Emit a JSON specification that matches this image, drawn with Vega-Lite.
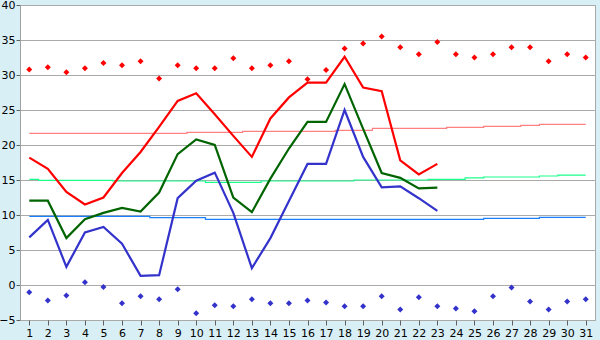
{
  "$schema": "https://vega.github.io/schema/vega-lite/v6.json",
  "width": 575,
  "height": 315,
  "autosize": {"type": "none"},
  "padding": {"left": 20, "top": 5, "right": 5, "bottom": 20},
  "background": "#d9eff6",
  "config": {
    "view": {"fill": "white", "stroke": "#a8a8a8", "strokeWidth": 1},
    "axis": {
      "labelFont": "DejaVu Sans",
      "labelFontSize": 11,
      "labelColor": "#000000",
      "domainColor": "#a0a0a0",
      "tickColor": "#606060",
      "title": null
    }
  },
  "datasets": {
    "normals": [
      {"day": 1, "series": "normal max", "value": 21.67}, {"day": 2, "series": "normal max", "value": 21.67}, {"day": 3, "series": "normal max", "value": 21.67}, {"day": 4, "series": "normal max", "value": 21.67}, {"day": 5, "series": "normal max", "value": 21.67}, {"day": 6, "series": "normal max", "value": 21.67}, {"day": 7, "series": "normal max", "value": 21.67}, {"day": 8, "series": "normal max", "value": 21.67}, {"day": 9, "series": "normal max", "value": 21.67}, {"day": 10, "series": "normal max", "value": 21.81}, {"day": 11, "series": "normal max", "value": 21.81}, {"day": 12, "series": "normal max", "value": 21.81}, {"day": 13, "series": "normal max", "value": 21.95}, {"day": 14, "series": "normal max", "value": 21.95}, {"day": 15, "series": "normal max", "value": 21.95}, {"day": 16, "series": "normal max", "value": 21.95}, {"day": 17, "series": "normal max", "value": 21.95}, {"day": 18, "series": "normal max", "value": 22.1}, {"day": 19, "series": "normal max", "value": 22.1}, {"day": 20, "series": "normal max", "value": 22.38}, {"day": 21, "series": "normal max", "value": 22.38}, {"day": 22, "series": "normal max", "value": 22.38}, {"day": 23, "series": "normal max", "value": 22.38}, {"day": 24, "series": "normal max", "value": 22.52}, {"day": 25, "series": "normal max", "value": 22.52}, {"day": 26, "series": "normal max", "value": 22.67}, {"day": 27, "series": "normal max", "value": 22.67}, {"day": 28, "series": "normal max", "value": 22.81}, {"day": 29, "series": "normal max", "value": 22.95}, {"day": 30, "series": "normal max", "value": 22.95}, {"day": 31, "series": "normal max", "value": 22.95},
      {"day": 1, "series": "normal mean", "value": 15.1}, {"day": 2, "series": "normal mean", "value": 14.96}, {"day": 3, "series": "normal mean", "value": 14.96}, {"day": 4, "series": "normal mean", "value": 14.96}, {"day": 5, "series": "normal mean", "value": 14.96}, {"day": 6, "series": "normal mean", "value": 14.86}, {"day": 7, "series": "normal mean", "value": 14.86}, {"day": 8, "series": "normal mean", "value": 14.86}, {"day": 9, "series": "normal mean", "value": 14.86}, {"day": 10, "series": "normal mean", "value": 14.86}, {"day": 11, "series": "normal mean", "value": 14.67}, {"day": 12, "series": "normal mean", "value": 14.67}, {"day": 13, "series": "normal mean", "value": 14.67}, {"day": 14, "series": "normal mean", "value": 14.86}, {"day": 15, "series": "normal mean", "value": 14.86}, {"day": 16, "series": "normal mean", "value": 14.86}, {"day": 17, "series": "normal mean", "value": 14.86}, {"day": 18, "series": "normal mean", "value": 14.86}, {"day": 19, "series": "normal mean", "value": 15.0}, {"day": 20, "series": "normal mean", "value": 15.0}, {"day": 21, "series": "normal mean", "value": 15.0}, {"day": 22, "series": "normal mean", "value": 15.0}, {"day": 23, "series": "normal mean", "value": 15.1}, {"day": 24, "series": "normal mean", "value": 15.1}, {"day": 25, "series": "normal mean", "value": 15.29}, {"day": 26, "series": "normal mean", "value": 15.43}, {"day": 27, "series": "normal mean", "value": 15.43}, {"day": 28, "series": "normal mean", "value": 15.43}, {"day": 29, "series": "normal mean", "value": 15.57}, {"day": 30, "series": "normal mean", "value": 15.71}, {"day": 31, "series": "normal mean", "value": 15.71},
      {"day": 1, "series": "normal min", "value": 9.81}, {"day": 2, "series": "normal min", "value": 9.81}, {"day": 3, "series": "normal min", "value": 9.81}, {"day": 4, "series": "normal min", "value": 9.81}, {"day": 5, "series": "normal min", "value": 9.81}, {"day": 6, "series": "normal min", "value": 9.81}, {"day": 7, "series": "normal min", "value": 9.81}, {"day": 8, "series": "normal min", "value": 9.62}, {"day": 9, "series": "normal min", "value": 9.62}, {"day": 10, "series": "normal min", "value": 9.62}, {"day": 11, "series": "normal min", "value": 9.38}, {"day": 12, "series": "normal min", "value": 9.38}, {"day": 13, "series": "normal min", "value": 9.38}, {"day": 14, "series": "normal min", "value": 9.38}, {"day": 15, "series": "normal min", "value": 9.38}, {"day": 16, "series": "normal min", "value": 9.38}, {"day": 17, "series": "normal min", "value": 9.38}, {"day": 18, "series": "normal min", "value": 9.38}, {"day": 19, "series": "normal min", "value": 9.38}, {"day": 20, "series": "normal min", "value": 9.38}, {"day": 21, "series": "normal min", "value": 9.38}, {"day": 22, "series": "normal min", "value": 9.38}, {"day": 23, "series": "normal min", "value": 9.38}, {"day": 24, "series": "normal min", "value": 9.38}, {"day": 25, "series": "normal min", "value": 9.38}, {"day": 26, "series": "normal min", "value": 9.52}, {"day": 27, "series": "normal min", "value": 9.52}, {"day": 28, "series": "normal min", "value": 9.52}, {"day": 29, "series": "normal min", "value": 9.67}, {"day": 30, "series": "normal min", "value": 9.67}, {"day": 31, "series": "normal min", "value": 9.67}
    ],
    "observed": [
      {"day": 1, "series": "max", "value": 18.2}, {"day": 2, "series": "max", "value": 16.6}, {"day": 3, "series": "max", "value": 13.3}, {"day": 4, "series": "max", "value": 11.5}, {"day": 5, "series": "max", "value": 12.5}, {"day": 6, "series": "max", "value": 16.0}, {"day": 7, "series": "max", "value": 19.0}, {"day": 8, "series": "max", "value": 22.6}, {"day": 9, "series": "max", "value": 26.3}, {"day": 10, "series": "max", "value": 27.4}, {"day": 11, "series": "max", "value": 24.4}, {"day": 12, "series": "max", "value": 21.3}, {"day": 13, "series": "max", "value": 18.3}, {"day": 14, "series": "max", "value": 23.8}, {"day": 15, "series": "max", "value": 26.8}, {"day": 16, "series": "max", "value": 28.9}, {"day": 17, "series": "max", "value": 28.9}, {"day": 18, "series": "max", "value": 32.6}, {"day": 19, "series": "max", "value": 28.2}, {"day": 20, "series": "max", "value": 27.7}, {"day": 21, "series": "max", "value": 17.8}, {"day": 22, "series": "max", "value": 15.8}, {"day": 23, "series": "max", "value": 17.3},
      {"day": 1, "series": "mean", "value": 12.05}, {"day": 2, "series": "mean", "value": 12.05}, {"day": 3, "series": "mean", "value": 6.7}, {"day": 4, "series": "mean", "value": 9.4}, {"day": 5, "series": "mean", "value": 10.3}, {"day": 6, "series": "mean", "value": 11.0}, {"day": 7, "series": "mean", "value": 10.5}, {"day": 8, "series": "mean", "value": 13.2}, {"day": 9, "series": "mean", "value": 18.7}, {"day": 10, "series": "mean", "value": 20.8}, {"day": 11, "series": "mean", "value": 20.0}, {"day": 12, "series": "mean", "value": 12.5}, {"day": 13, "series": "mean", "value": 10.4}, {"day": 14, "series": "mean", "value": 15.2}, {"day": 15, "series": "mean", "value": 19.5}, {"day": 16, "series": "mean", "value": 23.3}, {"day": 17, "series": "mean", "value": 23.3}, {"day": 18, "series": "mean", "value": 28.7}, {"day": 19, "series": "mean", "value": 22.3}, {"day": 20, "series": "mean", "value": 16.0}, {"day": 21, "series": "mean", "value": 15.3}, {"day": 22, "series": "mean", "value": 13.8}, {"day": 23, "series": "mean", "value": 13.9},
      {"day": 1, "series": "min", "value": 6.8}, {"day": 2, "series": "min", "value": 9.3}, {"day": 3, "series": "min", "value": 2.6}, {"day": 4, "series": "min", "value": 7.5}, {"day": 5, "series": "min", "value": 8.3}, {"day": 6, "series": "min", "value": 5.9}, {"day": 7, "series": "min", "value": 1.3}, {"day": 8, "series": "min", "value": 1.4}, {"day": 9, "series": "min", "value": 12.4}, {"day": 10, "series": "min", "value": 14.9}, {"day": 11, "series": "min", "value": 16.05}, {"day": 12, "series": "min", "value": 10.3}, {"day": 13, "series": "min", "value": 2.4}, {"day": 14, "series": "min", "value": 6.7}, {"day": 15, "series": "min", "value": 12.0}, {"day": 16, "series": "min", "value": 17.3}, {"day": 17, "series": "min", "value": 17.3}, {"day": 18, "series": "min", "value": 25.0}, {"day": 19, "series": "min", "value": 18.3}, {"day": 20, "series": "min", "value": 13.95}, {"day": 21, "series": "min", "value": 14.1}, {"day": 22, "series": "min", "value": 12.4}, {"day": 23, "series": "min", "value": 10.6}
    ],
    "records": [
      {"day": 1, "series": "record max", "value": 30.8}, {"day": 2, "series": "record max", "value": 31.1}, {"day": 3, "series": "record max", "value": 30.4}, {"day": 4, "series": "record max", "value": 30.95}, {"day": 5, "series": "record max", "value": 31.7}, {"day": 6, "series": "record max", "value": 31.4}, {"day": 7, "series": "record max", "value": 31.95}, {"day": 8, "series": "record max", "value": 29.5}, {"day": 9, "series": "record max", "value": 31.4}, {"day": 10, "series": "record max", "value": 30.95}, {"day": 11, "series": "record max", "value": 30.95}, {"day": 12, "series": "record max", "value": 32.4}, {"day": 13, "series": "record max", "value": 30.95}, {"day": 14, "series": "record max", "value": 31.4}, {"day": 15, "series": "record max", "value": 31.95}, {"day": 16, "series": "record max", "value": 29.4}, {"day": 17, "series": "record max", "value": 30.7}, {"day": 18, "series": "record max", "value": 33.8}, {"day": 19, "series": "record max", "value": 34.5}, {"day": 20, "series": "record max", "value": 35.5}, {"day": 21, "series": "record max", "value": 33.95}, {"day": 22, "series": "record max", "value": 32.95}, {"day": 23, "series": "record max", "value": 34.7}, {"day": 24, "series": "record max", "value": 32.95}, {"day": 25, "series": "record max", "value": 32.5}, {"day": 26, "series": "record max", "value": 32.95}, {"day": 27, "series": "record max", "value": 33.95}, {"day": 28, "series": "record max", "value": 33.95}, {"day": 29, "series": "record max", "value": 31.95}, {"day": 30, "series": "record max", "value": 32.95}, {"day": 31, "series": "record max", "value": 32.5},
      {"day": 1, "series": "record min", "value": -1.05}, {"day": 2, "series": "record min", "value": -2.2}, {"day": 3, "series": "record min", "value": -1.5}, {"day": 4, "series": "record min", "value": 0.4}, {"day": 5, "series": "record min", "value": -0.3}, {"day": 6, "series": "record min", "value": -2.6}, {"day": 7, "series": "record min", "value": -1.6}, {"day": 8, "series": "record min", "value": -2.05}, {"day": 9, "series": "record min", "value": -0.6}, {"day": 10, "series": "record min", "value": -4.05}, {"day": 11, "series": "record min", "value": -2.9}, {"day": 12, "series": "record min", "value": -3.05}, {"day": 13, "series": "record min", "value": -2.05}, {"day": 14, "series": "record min", "value": -2.6}, {"day": 15, "series": "record min", "value": -2.6}, {"day": 16, "series": "record min", "value": -2.2}, {"day": 17, "series": "record min", "value": -2.5}, {"day": 18, "series": "record min", "value": -3.05}, {"day": 19, "series": "record min", "value": -3.05}, {"day": 20, "series": "record min", "value": -1.6}, {"day": 21, "series": "record min", "value": -3.5}, {"day": 22, "series": "record min", "value": -1.75}, {"day": 23, "series": "record min", "value": -3.05}, {"day": 24, "series": "record min", "value": -3.35}, {"day": 25, "series": "record min", "value": -3.75}, {"day": 26, "series": "record min", "value": -1.6}, {"day": 27, "series": "record min", "value": -0.35}, {"day": 28, "series": "record min", "value": -2.35}, {"day": 29, "series": "record min", "value": -3.5}, {"day": 30, "series": "record min", "value": -2.35}, {"day": 31, "series": "record min", "value": -2.05}
    ]
  },
  "encoding": {
    "x": {
      "field": "day",
      "type": "ordinal",
      "scale": {"type": "point", "padding": 0.5},
      "axis": {"labelAngle": 0, "tickSize": 5, "labelPadding": 2, "domain": false}
    },
    "y": {
      "field": "value",
      "type": "quantitative",
      "scale": {"domain": [-5, 40], "nice": false, "zero": false},
      "axis": {
        "values": [-5, 0, 5, 10, 15, 20, 25, 30, 35, 40],
        "grid": true,
        "gridColor": "#aaaaaa",
        "gridWidth": 1,
        "tickSize": 4,
        "labelPadding": 1
      }
    },
    "color": {
      "field": "series",
      "type": "nominal",
      "legend": null,
      "scale": {
        "domain": ["normal max", "normal mean", "normal min", "max", "mean", "min", "record max", "record min"],
        "range": ["#ff8080", "#1aff8c", "#1a80ff", "#ff0000", "#006400", "#3333cc", "#ff0000", "#3333cc"]
      }
    }
  },
  "layer": [
    {
      "data": {"name": "normals"},
      "mark": {"type": "line", "interpolate": "step", "strokeWidth": 1.2}
    },
    {
      "data": {"name": "observed"},
      "mark": {"type": "line", "strokeWidth": 2.2}
    },
    {
      "data": {"name": "records"},
      "mark": {"type": "point", "shape": "diamond", "filled": true, "opacity": 1, "size": 36}
    }
  ]
}
